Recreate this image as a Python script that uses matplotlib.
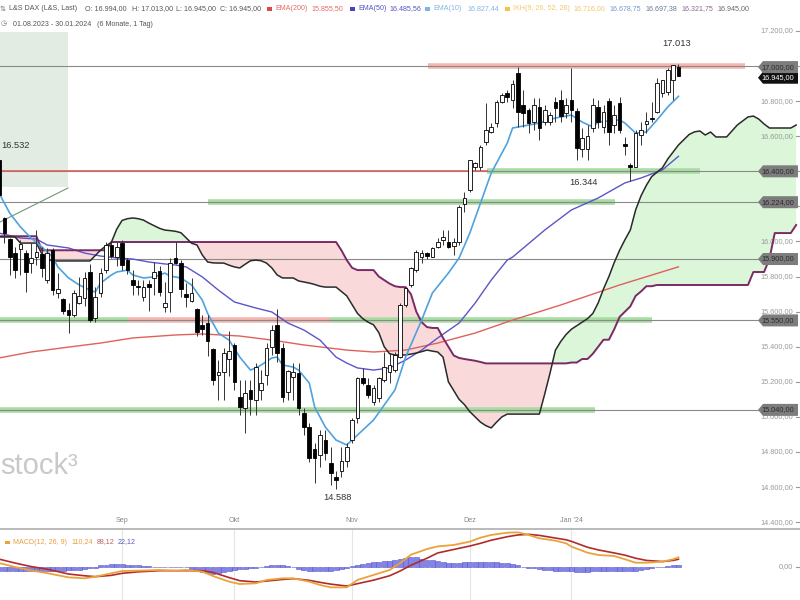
import matplotlib
matplotlib.use('Agg')
import matplotlib.pyplot as plt
from matplotlib.patches import Polygon, Rectangle
from matplotlib.lines import Line2D
import matplotlib.transforms as mtransforms
from matplotlib import font_manager as fm
import numpy as np

# ---------------- data ----------------
OPEN = [16465, 16132, 16012, 15936, 15960, 15933, 15879, 15913, 15929, 15781,
        15951, 15705, 15670, 15610, 15581, 15651, 15676, 15828, 15562, 15705,
        15837, 15980, 15913, 15990, 15894, 15781, 15746, 15685, 15756, 15790,
        15832, 15628, 15714, 15904, 15876, 15699, 15662, 15613, 15524, 15534,
        15385, 15239, 15258, 15330, 15410, 15115, 15049, 15153, 15096, 15153,
        15239, 15400, 15524, 15391, 15144, 15229, 15252, 15024, 14944, 14817,
        14783, 14868, 14739, 14660, 14690, 14750, 14868, 14992, 15220, 15182,
        15087, 15106, 15210, 15258, 15267, 15343, 15638, 15752, 15838, 15913,
        15933, 15913, 15967, 16010, 15999, 15974, 15999, 16214, 16293, 16427,
        16423, 16569, 16626, 16674, 16797, 16845, 16807, 16959, 16778, 16750,
        16683, 16769, 16683, 16683, 16797, 16807, 16735, 16807, 16744, 16525,
        16525, 16645, 16765, 16655, 16803, 16664, 16788, 16554, 16436, 16427,
        16607, 16670, 16706, 16740, 16845, 16854, 16921, 16994]
HIGH = [16532, 16141, 16020, 15970, 16010, 15950, 15990, 16066, 15970, 15961,
        15961, 15819, 15680, 15648, 15724, 15800, 15826, 15871, 15741, 15848,
        15997, 15997, 15997, 16009, 15905, 15837, 15781, 15781, 15781, 15885,
        15860, 15771, 15905, 15998, 15894, 15763, 15791, 15619, 15581, 15581,
        15392, 15323, 15390, 15491, 15420, 15210, 15210, 15210, 15305, 15267,
        15420, 15524, 15614, 15420, 15267, 15305, 15305, 15049, 14963, 14849,
        14925, 14925, 14830, 14690, 14830, 14850, 14994, 15230, 15277, 15220,
        15182, 15230, 15372, 15362, 15372, 15647, 15742, 15856, 15951, 15951,
        15942, 15970, 16018, 16065, 16065, 16018, 16208, 16284, 16465, 16455,
        16550, 16788, 16674, 16807, 16845, 16864, 16921, 16995, 16864, 16759,
        16816, 16816, 16778, 16740, 16826, 16864, 16816, 16987, 16759, 16645,
        16664, 16816, 16806, 16778, 16816, 16778, 16826, 16597, 16446, 16636,
        16683, 16740, 16797, 16931, 16921, 16987, 17005, 17013]
LOW = [16254, 15990, 15809, 15790, 15810, 15714, 15819, 15866, 15799, 15762,
       15695, 15676, 15585, 15477, 15572, 15643, 15630, 15540, 15540, 15682,
       15819, 15905, 15860, 15837, 15814, 15695, 15695, 15662, 15605, 15695,
       15690, 15597, 15597, 15870, 15685, 15628, 15653, 15462, 15467, 15349,
       15181, 15097, 15097, 15234, 15153, 15011, 14906, 15011, 15011, 15096,
       15182, 15353, 15315, 15087, 15096, 15096, 15011, 14896, 14745, 14621,
       14716, 14754, 14612, 14588, 14660, 14716, 14850, 14963, 15182, 15106,
       15068, 15087, 15201, 15191, 15258, 15334, 15628, 15742, 15828, 15875,
       15903, 15913, 15961, 15980, 15961, 15923, 15980, 16170, 16284, 16408,
       16408, 16550, 16617, 16655, 16788, 16797, 16759, 16655, 16655, 16617,
       16636, 16579, 16664, 16664, 16683, 16683, 16702, 16683, 16465, 16484,
       16465, 16626, 16645, 16617, 16550, 16617, 16617, 16493, 16344, 16427,
       16550, 16617, 16683, 16731, 16826, 16835, 16807, 16945]
CLOSE = [16265, 16047, 15913, 15837, 15985, 15828, 15904, 15942, 15847, 15933,
         15723, 15727, 15604, 15581, 15705, 15689, 15790, 15553, 15685, 15819,
         15980, 15917, 15970, 15866, 15837, 15752, 15738, 15742, 15739, 15828,
         15714, 15648, 15876, 15876, 15727, 15685, 15705, 15486, 15501, 15434,
         15210, 15254, 15362, 15377, 15201, 15055, 15134, 15102, 15286, 15191,
         15391, 15495, 15362, 15115, 15263, 15258, 15049, 14941, 14767, 14764,
         14897, 14796, 14678, 14640, 14750, 14830, 14982, 15220, 15192, 15125,
         15163, 15220, 15286, 15296, 15353, 15638, 15733, 15847, 15942, 15933,
         15920, 15961, 15999, 16027, 15970, 15999, 16198, 16246, 16465, 16446,
         16537, 16636, 16655, 16797, 16835, 16822, 16896, 16740, 16731, 16674,
         16778, 16645, 16750, 16721, 16759, 16714, 16778, 16750, 16531, 16588,
         16601, 16778, 16683, 16740, 16626, 16721, 16636, 16544, 16427, 16617,
         16636, 16689, 16697, 16902, 16921, 16978, 17006, 16945]

MONTH_LABELS = ['Sep', 'Okt', 'Nov', 'Dez', "Jan '24"]
MONTH_IDX = [23, 44, 66, 88, 107]

EMA10_IDX = [0, 2, 4, 6, 8, 10, 11, 13, 15, 17, 18, 19, 21, 22, 24, 25, 27, 29, 31, 32,
             34, 36, 38, 39, 41, 43, 45, 47, 48, 49, 51, 52, 53, 55, 56, 58, 59, 61, 63, 65,
             66, 70, 74, 76, 79, 81, 84, 86, 88, 90, 92, 95, 96, 99, 101, 104, 107, 109, 111, 112,
             116, 117, 119, 121, 123, 125, 127]
EMA10_VAL = [16276, 16162, 16083, 16020, 15969, 15912, 15855, 15792, 15752, 15723, 15712, 15763,
             15809, 15826, 15837, 15809, 15792, 15798, 15820, 15803, 15792, 15752, 15666, 15590,
             15478, 15438, 15341, 15267, 15279, 15296, 15336, 15341, 15296, 15284, 15267, 15193,
             15056, 14942, 14868, 14840, 14868, 14982, 15153, 15341, 15552, 15706, 15820, 15906,
             16048, 16219, 16390, 16561, 16647, 16664, 16675, 16704, 16721, 16681, 16653, 16681,
             16693, 16675, 16618, 16624, 16693, 16767, 16827.44]
EMA50_IDX = [0, 4, 7, 9, 13, 16, 19, 22, 25, 28, 31, 33, 35, 38, 41, 44, 48, 51, 54, 57,
             60, 63, 65, 67, 70, 73, 76, 79, 82, 86, 89, 92, 95, 96, 102, 107, 112, 117, 120, 124, 127]
EMA50_VAL = [16048, 16020, 16014, 15980, 15963, 15934, 15917, 15906, 15900, 15883, 15872, 15866,
             15855, 15798, 15723, 15655, 15621, 15598, 15535, 15495, 15438, 15341, 15307, 15279,
             15267, 15279, 15324, 15381, 15450, 15535, 15649, 15780, 15894, 15911, 16065, 16180,
             16248, 16334, 16362, 16408, 16485.56]
EMA200_IDX = [0, 6, 13, 19, 25, 33, 38, 45, 51, 57, 65, 70, 76, 82, 89, 96, 105, 116, 127]
EMA200_VAL = [15336, 15370, 15398, 15421, 15450, 15467, 15473, 15461, 15438, 15410, 15381,
              15370, 15381, 15421, 15478, 15552, 15638, 15752, 15855.50]

# Ichimoku cloud (already shifted 26 days forward), one value per day index 0..149
SPAN_A = [16026, 16026, 16026, 16026, 15991, 15991, 15991, 15991, 15930, 15900,
          15889, 15889, 15889, 15889, 15889, 15889, 15889, 15889, 15920, 15951,
          15975, 15995, 16070, 16120, 16130, 16134, 16130, 16122, 16105, 16090,
          16075, 16065, 16062, 16058, 16050, 16020, 15990, 15980, 15923, 15883,
          15878, 15877, 15877, 15865, 15855, 15849, 15870, 15890, 15894, 15890,
          15877, 15849, 15809, 15792, 15792, 15792, 15775, 15769, 15763, 15755,
          15745, 15740, 15740, 15740, 15715, 15690, 15640, 15590, 15560, 15540,
          15525, 15480, 15400, 15360, 15353, 15353, 15353, 15358, 15364, 15372,
          15381, 15375, 15370, 15341, 15200, 15150, 15100, 15070, 15030, 15000,
          14970, 14950, 14937, 14970, 15000, 15016, 15016, 15016, 15016, 15016,
          15016, 15016, 15130, 15250, 15380, 15430, 15470, 15500, 15520, 15540,
          15560, 15590, 15650, 15730, 15800, 15880, 15950, 16010, 16065, 16180,
          16260, 16320, 16370, 16395, 16420, 16470, 16510, 16550, 16580, 16610,
          16625, 16630, 16607, 16624, 16596, 16596, 16596, 16630, 16664, 16687,
          16710, 16715, 16698, 16670, 16647, 16647, 16647, 16647, 16647, 16664]
SPAN_B = ([16030] * 8 + [15950] * 13 + [15997] * 43 +
          [15950, 15894, 15850, 15837, 15837, 15837, 15837, 15800, 15780, 15760, 15745,
           15740, 15740, 15700, 15600, 15540, 15512, 15507, 15507, 15450, 15400, 15350,
           15336, 15330, 15325, 15320, 15313] +
          [15305] * 16 +
          [15310, 15310, 15330, 15330, 15360, 15400, 15440, 15440, 15500, 15570, 15600,
           15630, 15690, 15715, 15745, 15745] +
          [15752] * 18 + [15826] * 3 + [15900] + [16048] * 4 + [16094])

MACD_IDX = [0, 3, 6, 9, 13, 16, 18, 21, 23, 26, 30, 33, 35, 38, 40, 43, 45, 48, 50, 53,
            55, 58, 60, 62, 65, 67, 70, 73, 75, 77, 80, 82, 85, 88, 90, 92, 95, 97, 99, 101,
            104, 106, 107, 110, 112, 115, 117, 119, 121, 124, 126, 127]
MACD_VAL = [45, 0, -40, -70, -118, -129, -110, -72, -46, -42, -34, -42, -34, -53, -103, -167,
            -194, -186, -148, -129, -129, -167, -205, -232, -232, -148, -91, -34, 45, 140, 205,
            235, 251, 289, 334, 365, 391, 395, 365, 327, 300, 270, 232, 163, 137, 125, 88, 49,
            49, 61, 88, 110.24]
SIGNAL_VAL = [90, 45, 5, -25, -80, -100, -110, -95, -72, -55, -42, -42, -42, -42, -62, -120,
              -156, -171, -160, -142, -133, -152, -175, -195, -217, -190, -150, -100, -45, 20,
              100, 160, 200, 239, 270, 305, 345, 365, 372, 360, 330, 310, 292, 225, 195, 160,
              135, 100, 75, 62, 75, 88.12]
HIST = [-40, -42, -45, -45, -45, -45, -45, -45, -45, -45, -45, -45, -40,
        -35, -35, -30, -25, -15, -8,
        20, 28, 30, 30, 30, 28, 25, 20,
        12, 8, 5, 0, 3, 5, 5, 5, 0,
        -20, -40, -60, -70, -75, -70, -60,
        -40, -30, -25, -20, -15, -10, -5,
        10, 20, 25, 20, 10,
        -5, -20, -30, -40, -45, -45, -40, -40, -35, -25, -15,
        10, 25, 35, 45, 55, 60, 65, 70, 80,
        95, 105, 115, 110, 95, 85, 75, 65,
        55, 50, 50, 48, 55, 60, 60, 60, 60, 55,
        55, 50, 45, 30, 20, 5, -10, -15, -20,
        -30, -35, -40, -40, -45, -50, -55, -60, -55,
        -50, -45, -45, -45, -50, -50, -45,
        -50, -40, -30, -25, -15, -5, 5, 12, 18, 22.12]

IKH_VALUES = [16716.00, 16678.75, 16697.38, 16321.75, 16945.00]
LEVELS = [17000, 16400, 16224, 15900, 15550, 15040]
PRICE_TICKS = [17200, 17000, 16800, 16600, 16400, 16200, 16000, 15800, 15600,
               15400, 15200, 15000, 14800, 14600, 14400]
HIDDEN_TICK_LABELS = [17000, 16400, 16200]   # fully covered by the level boxes

# ---------------- helpers ----------------
def has_font(name):
    try:
        fm.findfont(fm.FontProperties(family=name), fallback_to_default=False)
        return True
    except Exception:
        return False

BASE = 'Liberation Sans Narrow' if has_font('Liberation Sans Narrow') else 'Liberation Sans'
FAM = [BASE, 'DejaVu Sans']

def de(v, dec=2):
    s = f"{v:,.{dec}f}"
    return s.replace(',', '#').replace('.', ',').replace('#', '.')

W, H = 800, 600
PXI = 5.35          # pixels per trading day
XMIN = 1.0 / PXI
XMAX = XMIN + W / PXI
YMAX = 17376.7
YMIN = 14360.9
MAIN_BOTTOM = 529

fig = plt.figure(figsize=(8, 6), dpi=100)
renderer = fig.canvas.get_renderer()

def text_w(s, size):
    t = fig.text(0, 0, s, fontsize=size, family=FAM)
    w = t.get_window_extent(renderer).width
    t.remove()
    return w

def fit_size(sample, target_px):
    return 10.0 * target_px / text_w(sample, 10.0)

HFS = fit_size('16.827,44', 32)
TFS = fit_size('17.200,00', 33)
AFS = fit_size('17.013', 28)
MFS = fit_size("Jan '24", 23)

ax = fig.add_axes([0, (H - MAIN_BOTTOM) / H, 1, MAIN_BOTTOM / H])
mx = fig.add_axes([0, 0, 1, (H - MAIN_BOTTOM) / H])
for a in (ax, mx):
    a.set_xlim(XMIN, XMAX)
    a.axis('off')
ax.set_ylim(YMIN, YMAX)
mx.set_ylim(-376, 433)

def px2i(x):
    return (x + 1) / PXI

PPX = (YMAX - YMIN) / MAIN_BOTTOM   # price units per pixel
blend = mtransforms.blended_transform_factory(ax.transAxes, ax.transData)
mblend = mtransforms.blended_transform_factory(mx.transAxes, mx.transData)

# ---------------- background drawing objects ----------------
ax.add_patch(Rectangle((XMIN, 16311), px2i(68) - XMIN, 17194 - 16311,
                       facecolor='#e3ece3', edgecolor='none', zorder=0.5))
ax.plot([XMIN, px2i(68)], [16111, 16305], color='#6f9a6f', lw=0.8, zorder=0.6)

# Ichimoku cloud
ci = np.arange(len(SPAN_A))
sa = np.array(SPAN_A, float)
sb = np.array(SPAN_B, float)
ax.fill_between(ci, sa, sb, where=sa >= sb, interpolate=True, color='#dcf6d9', lw=0, zorder=1)
ax.fill_between(ci, sa, sb, where=sa < sb, interpolate=True, color='#f9d9d9', lw=0, zorder=1)

# price ticks on the right
for p in PRICE_TICKS:
    if p not in HIDDEN_TICK_LABELS:
        ax.text(0.992, p, de(p), transform=blend, ha='right', va='center', fontsize=TFS,
                color='#9a9a9a', family=FAM, zorder=1.5)
    ax.plot([0.995, 1.0], [p, p], transform=blend, color='#9a9a9a', lw=0.8, zorder=1.5,
            clip_on=False)

# horizontal levels
GREEN_B = '#a9dca3'
RED_B = '#f3b6b1'
BANDS = [(17000, 428, 745, RED_B), (16400, 487, 700, GREEN_B), (16224, 208, 615, GREEN_B),
         (15550, 0, 128, GREEN_B), (15550, 128, 330, RED_B), (15550, 330, 652, GREEN_B),
         (15040, 0, 595, GREEN_B)]
for lvl, x0, x1, col in BANDS:
    ax.plot([px2i(x0), px2i(x1)], [lvl, lvl], color=col, lw=4.0, solid_capstyle='butt', zorder=2)
for lvl in LEVELS:
    ax.plot([XMIN, px2i(758)], [lvl, lvl], color='#8a8a8a', lw=0.8, zorder=2.1)
ax.plot([XMIN, px2i(487)], [16400, 16400], color='#d9605a', lw=1.2, zorder=2.2)

# moving averages and cloud lines
ax.plot(EMA200_IDX, EMA200_VAL, color='#e0605c', lw=1.0, zorder=3)
ax.plot(EMA50_IDX, EMA50_VAL, color='#5b55c9', lw=1.0, zorder=3)
ax.plot(ci, sb, color='#7a2a66', lw=1.4, zorder=3.1)
ax.plot(ci, sa, color='#2a2a2a', lw=1.1, zorder=3.1)
ax.plot(EMA10_IDX, EMA10_VAL, color='#4fa2de', lw=1.2, zorder=3.2)

# candles
idx = np.arange(len(CLOSE))
o = np.array(OPEN, float); c = np.array(CLOSE, float)
hi = np.array(HIGH, float); lo = np.array(LOW, float)
up = c >= o
ax.vlines(idx, lo, hi, color='#333333', lw=0.7, zorder=5)
bottom = np.minimum(o, c)
height = np.maximum(np.abs(c - o), 5)
ax.bar(idx, height, bottom=bottom, width=0.68, color=np.where(up, 'white', 'black'),
       edgecolor='black', linewidth=0.6, zorder=6)

# annotations
ax.text(0.4, 16550, de(HIGH[0], 0), ha='left', va='center', fontsize=AFS, color='#333', family=FAM, zorder=7)
ax.text(126.6, 17131, de(max(HIGH[100:]), 0), ha='center', va='center', fontsize=AFS, color='#333', family=FAM, zorder=7)
ax.text(109.3, 16339, de(min(LOW[100:]), 0), ha='center', va='center', fontsize=AFS, color='#333', family=FAM, zorder=7)
ax.text(63.2, 14543, de(min(LOW), 0), ha='center', va='center', fontsize=AFS, color='#333', family=FAM, zorder=7)

# month labels
for lab, i in zip(MONTH_LABELS, MONTH_IDX):
    ax.text(i, 14410, lab, ha='center', va='center', fontsize=MFS, color='#888', family=FAM, zorder=7)
    mx.axvline(i, color='#e4e4e4', lw=0.8, zorder=0)

# watermark
fig.text(0.0, 1 - 466 / H, 'stock\u00b3', fontsize=21, color='#c9c9c9', va='center', ha='left',
         family=['Liberation Sans', 'DejaVu Sans'], zorder=8)

# price boxes on the right
def price_box(p, text, fc, tc, y_off_px=0.0, z=9):
    h = 6.0 * PPX
    y = p - y_off_px * PPX
    pts = [(758 / W, y), (763 / W, y + h), (798 / W, y + h), (798 / W, y - h), (763 / W, y - h)]
    ax.add_patch(Polygon(pts, closed=True, transform=blend, facecolor=fc, edgecolor='none',
                         zorder=z, clip_on=False))
    ax.text(794 / W, y, text, transform=blend, ha='right', va='center', fontsize=TFS,
            color=tc, family=FAM, zorder=z + 0.5)

price_box(CLOSE[-1], de(CLOSE[-1]), '#111111', '#ffffff', y_off_px=2.0, z=8)
for lvl in LEVELS:
    price_box(lvl, de(lvl), '#7d7d7d', '#2b2b2b', y_off_px=1.0 if lvl == 17000 else 0.0)

# ---------------- MACD panel ----------------
mx.bar(idx, HIST, width=0.92, color='#8383ea', edgecolor='#5656c4', linewidth=0.4, zorder=2)
mx.plot(MACD_IDX, SIGNAL_VAL, color='#b02c2c', lw=1.2, zorder=3)
mx.plot(MACD_IDX, MACD_VAL, color='#eca23a', lw=1.3, zorder=3)
mx.text(0.992, 0, '0,00', transform=mblend, ha='right', va='center', fontsize=TFS, color='#9a9a9a', family=FAM)
mx.plot([0.995, 1.0], [0, 0], transform=mblend, color='#9a9a9a', lw=0.8, clip_on=False)

fig.add_artist(Line2D([0, 1], [(H - MAIN_BOTTOM) / H] * 2, color='#b4b4b4', lw=1.3))

# ---------------- header texts (placed left to right, never overlapping) ----------------
def text_row(y, pieces, size):
    cur = 0.0
    for x, s, col in pieces:
        x = max(x, cur)
        if s is None:
            fig.add_artist(Rectangle((x / W, 1 - (y + 1.5) / H), 5 / W, 3 / H,
                                     transform=fig.transFigure, facecolor=col, edgecolor='none'))
            cur = x + 8
        else:
            t = fig.text(x / W, 1 - y / H, s, color=col, fontsize=size, family=FAM,
                         va='center', ha='left')
            cur = x + t.get_window_extent(renderer).width + 3

IKH_COLORS = ['#f2c868', '#7696cc', '#6a7696', '#8a6a8a', '#666666']
row1 = [(0, '\u21c5', '#777'),
        (7, 'L&S DAX (L&S, Last)', '#555'),
        (85, 'O: ' + de(OPEN[-1]), '#555'),
        (132, 'H: ' + de(HIGH[-1]), '#555'),
        (176, 'L: ' + de(LOW[-1]), '#555'),
        (220, 'C: ' + de(CLOSE[-1]), '#555'),
        (267, None, '#e04848'),
        (274, 'EMA(200)', '#e46a6a'),
        (312, de(EMA200_VAL[-1]), '#e46a6a'),
        (350, None, '#4a44b8'),
        (357, 'EMA(50)', '#5a54c0'),
        (387, de(EMA50_VAL[-1]), '#5a54c0'),
        (425, None, '#7fb4e4'),
        (433, 'EMA(10)', '#84b6e4'),
        (467, de(EMA10_VAL[-1]), '#84b6e4'),
        (505, None, '#f2c24a'),
        (513, 'IKH(9, 26, 52, 26)', '#f2c868')]
row1 += [(xx, de(v), col) for xx, v, col in zip([573, 609, 645, 681, 717], IKH_VALUES, IKH_COLORS)]
text_row(9, row1, HFS)
text_row(24, [(1, '\u25f7', '#777'), (13, '01.08.2023 - 30.01.2024', '#555'),
              (97, '(6 Monate, 1 Tag)', '#555')], HFS)
text_row(542, [(5, None, '#eca23a'), (13, 'MACD(12, 26, 9)', '#e9a040'),
               (72, de(MACD_VAL[-1]), '#e9a040'), (97, de(SIGNAL_VAL[-1]), '#b86060'),
               (118, de(HIST[-1]), '#5a5ac0')], HFS)

fig.savefig('out.png', dpi=100, facecolor='white')
